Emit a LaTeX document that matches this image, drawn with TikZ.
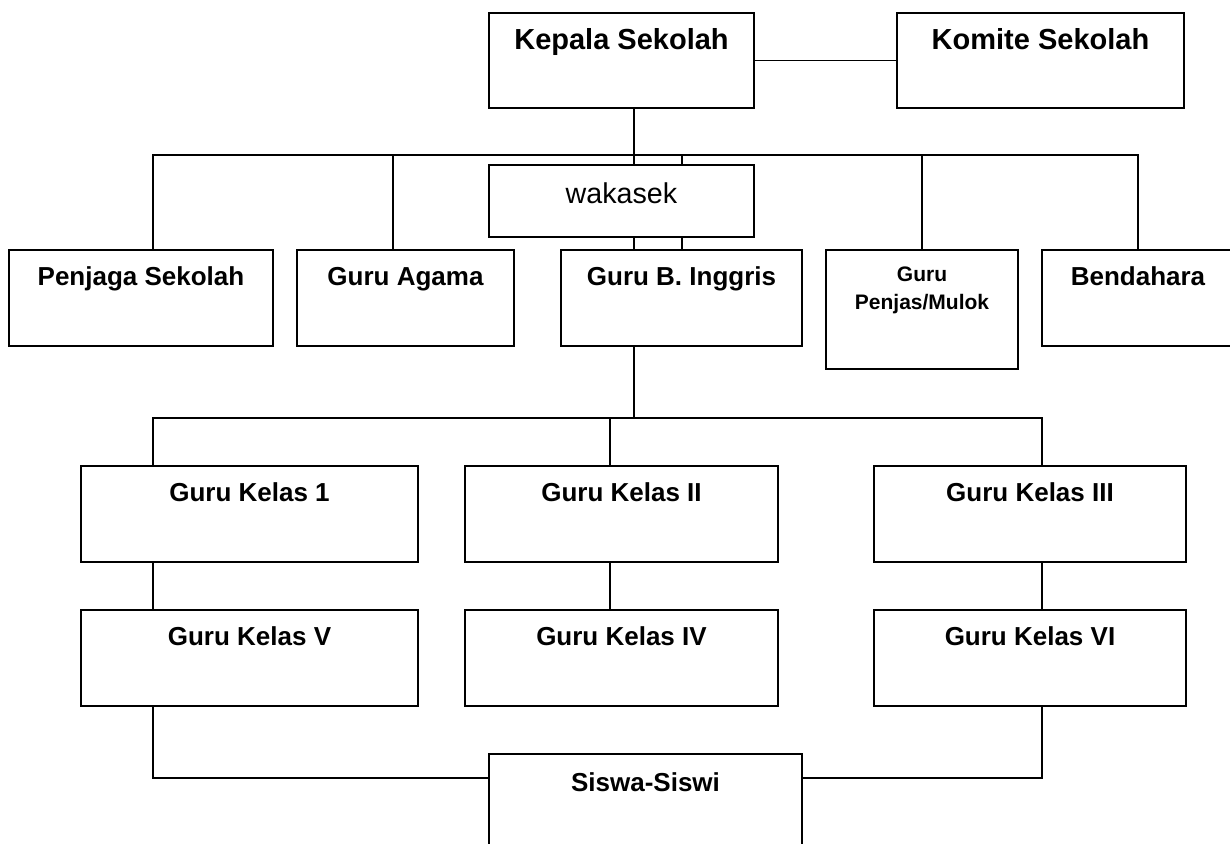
\documentclass[tikz,border=0pt]{standalone}
\usepackage{fontspec}
\setmainfont{Liberation Sans}
\tikzset{
  kotak/.style={draw,fill=white,line width=1.5pt,inner sep=0pt,
    font=\bfseries\fontsize{19.5}{23}\selectfont,
    text height=26.25pt,text depth=45.75pt},
  judul/.style={font=\bfseries\fontsize{21.75}{26}\selectfont,
    text height=27pt,text depth=44.25pt},
  garis/.style={line width=1.2pt},
}
\begin{document}
\begin{tikzpicture}[x=0.75pt,y=-0.75pt]
  \clip (0,0) rectangle (1230,843);
  \fill[white] (0,0) rectangle (1230,843);
  % junctions of the buses
  \coordinate (busatas) at (634,155);
  \coordinate (bustengah) at (634,418);
  \coordinate (busbawah) at (0,778);
  \coordinate (kolA) at (153,0);
  \coordinate (kolB) at (610,0);
  \coordinate (kolC) at (1042,0);
  \coordinate (kolW) at (682,0);
  % top
  \node[kotak,judul,minimum width=198.75pt] (kepala) at (621.5,60.5) {Kepala Sekolah};
  \node[kotak,judul,minimum width=215.25pt] (komite) at (1040.5,60.5) {Komite Sekolah};
  \node[kotak,minimum width=198.75pt,font=\fontsize{21.5}{26}\selectfont,
    text height=28.5pt,text depth=25.5pt] (wakasek) at (621.5,201) {wakasek};
  % staff row
  \node[kotak,minimum width=198pt] (penjaga) at (141,298) {Penjaga Sekolah};
  \node[kotak,minimum width=162.75pt] (agama) at (405.5,298) {Guru Agama};
  \node[kotak,minimum width=180.75pt] (inggris) at (681.5,298) {Guru B. Inggris};
  \node[kotak,minimum width=144pt,font=\bfseries\fontsize{15.75}{21}\selectfont,
    text height=23.25pt,text depth=66pt] (penjas) at (922,309.5)
    {\begin{tabular}[t]{@{}c@{}}Guru\\Penjas/Mulok\end{tabular}};
  \node[kotak,minimum width=144pt] (bendahara) at (1138,298) {Bendahara};
  % class teachers
  \node[kotak,minimum width=252.75pt] (kelas1) at (249.5,514) {Guru Kelas 1};
  \node[kotak,minimum width=234.75pt] (kelas2) at (621.5,514) {Guru Kelas II};
  \node[kotak,minimum width=234pt] (kelas3) at (1030,514) {Guru Kelas III};
  \node[kotak,minimum width=252.75pt] (kelas5) at (249.5,658) {Guru Kelas V};
  \node[kotak,minimum width=234.75pt] (kelas4) at (621.5,658) {Guru Kelas IV};
  \node[kotak,minimum width=234pt] (kelas6) at (1030,658) {Guru Kelas VI};
  \node[kotak,minimum width=234.75pt,text height=27.75pt,text depth=44.25pt] (siswa) at (645.5,802) {Siswa-Siswi};
  % connectors
  \draw[garis] (kepala.east) -- (komite.west);
  \draw[garis] (kepala.south -| busatas) -- (busatas);
  \draw[garis] (penjaga.north -| kolA) |- (busatas) -| (bendahara.north);
  \draw[garis] (agama.north -| 393,0) -- (busatas -| 393,0);
  \draw[garis] (penjas.north) -- (penjas.north |- busatas);
  \draw[garis] (busatas) -- (wakasek.north -| busatas);
  \draw[garis] (busatas -| kolW) -- (wakasek.north -| kolW);
  \draw[garis] (wakasek.south -| busatas) -- (inggris.north -| busatas);
  \draw[garis] (wakasek.south -| kolW) -- (inggris.north -| kolW);
  \draw[garis] (inggris.south -| bustengah) -- (bustengah);
  \draw[garis] (kelas1.north -| kolA) |- (bustengah) -| (kelas3.north -| kolC);
  \draw[garis] (kelas2.north -| kolB) -- (bustengah -| kolB);
  \draw[garis] (kelas1.south -| kolA) -- (kelas5.north -| kolA);
  \draw[garis] (kelas2.south -| kolB) -- (kelas4.north -| kolB);
  \draw[garis] (kelas3.south -| kolC) -- (kelas6.north -| kolC);
  \draw[garis] (kelas5.south -| kolA) |- (siswa.west |- busbawah);
  \draw[garis] (kelas6.south -| kolC) |- (siswa.east |- busbawah);
\end{tikzpicture}
\end{document}
